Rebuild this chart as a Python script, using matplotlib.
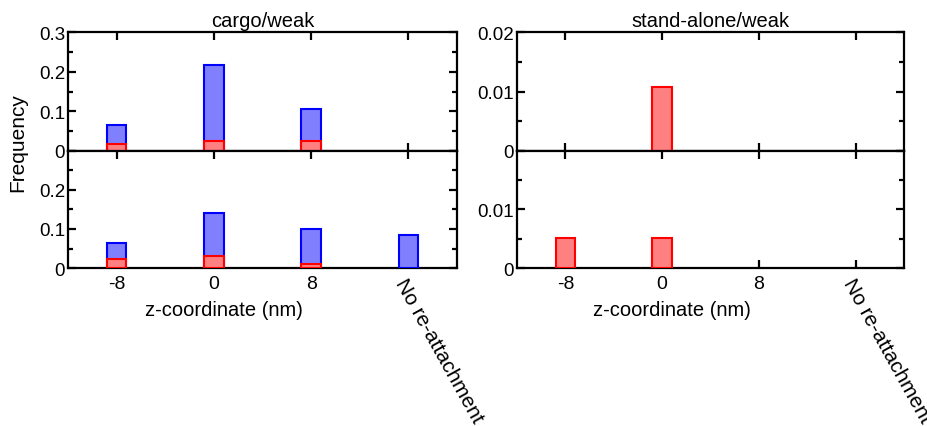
import matplotlib
matplotlib.use("Agg")
import matplotlib.pyplot as plt
import numpy as np

plt.rcParams["font.family"] = ["Liberation Sans", "DejaVu Sans"]
plt.rcParams["font.size"] = 14

categories = ["-8", "0", "8", "No re-attachment"]

# cargo/weak
cargo_top_blue = [0.065, 0.218, 0.106, 0.0]
cargo_top_red = [0.018, 0.025, 0.025, 0.0]
cargo_bot_blue = [0.064, 0.140, 0.099, 0.085]
cargo_bot_red = [0.024, 0.031, 0.010, 0.0]

# stand-alone/weak
alone_top_blue = [0.0, 0.0, 0.0, 0.0]
alone_top_red = [0.0, 0.0107, 0.0, 0.0]
alone_bot_blue = [0.0, 0.0, 0.0, 0.0]
alone_bot_red = [0.0052, 0.0052, 0.0, 0.0]

cargo_yticks = [0, 0.1, 0.2, 0.3]
cargo_top_labels = ["0", "0.1", "0.2", "0.3"]
cargo_bot_labels = ["0", "0.1", "0.2", ""]
alone_yticks = [0, 0.01, 0.02]
alone_top_labels = ["0", "0.01", "0.02"]
alone_bot_labels = ["0", "0.01", ""]

blue_face, blue_edge = "#8080ff", "#0000ff"
red_face, red_edge = "#ff8080", "#ff0000"

fig = plt.figure(figsize=(9.28, 4.27), dpi=100)
H = 427.0
W = 928.0


def make_ax(x0, x1, y0, y1):
    return fig.add_axes([x0 / W, 1 - y1 / H, (x1 - x0) / W, (y1 - y0) / H])


def draw(ax, blue, red, yticks, ylabels, ymax, minor):
    x = np.arange(len(categories))
    bw = 0.2
    for v, c in [(blue, (blue_face, blue_edge)), (red, (red_face, red_edge))]:
        vals = np.array(v)
        m = vals > 0
        ax.bar(x[m], vals[m], width=bw, color=c[0], edgecolor=c[1], linewidth=1.5, zorder=3)
    ax.set_xlim(-0.5, 3.5)
    ax.set_ylim(0, ymax)
    ax.set_yticks(yticks)
    ax.set_yticklabels(ylabels)
    ax.set_yticks(np.arange(minor, ymax, 2 * minor), minor=True)
    ax.set_xticks(x)
    ax.tick_params(axis="both", which="both", direction="in", top=True, right=True, width=1.6)
    ax.tick_params(axis="y", labelsize=13.5, pad=2)
    ax.tick_params(axis="x", labelsize=14, pad=5)
    ax.tick_params(which="major", length=6)
    ax.tick_params(which="minor", length=3.5)
    for s in ax.spines.values():
        s.set_linewidth(1.6)


panels = [
    (68, 457, "cargo/weak", cargo_top_blue, cargo_top_red, cargo_bot_blue, cargo_bot_red,
     cargo_yticks, cargo_top_labels, cargo_bot_labels, 0.3, 0.05),
    (517, 904, "stand-alone/weak", alone_top_blue, alone_top_red, alone_bot_blue, alone_bot_red,
     alone_yticks, alone_top_labels, alone_bot_labels, 0.02, 0.005),
]

for x0, x1, title, tb, tr, bb, br, yt, tl, bl, ymax, minor in panels:
    ax_t = make_ax(x0, x1, 33, 152)
    ax_b = make_ax(x0, x1, 152, 269)
    draw(ax_t, tb, tr, yt, tl, ymax, minor)
    draw(ax_b, bb, br, yt, bl, ymax, minor)
    ax_t.set_xticklabels([])
    ax_t.set_title(title, fontsize=14.5, pad=4)
    ax_b.set_xticklabels(categories)
    lab = ax_b.get_xticklabels()[-1]
    lab.set_rotation(-61)
    lab.set_ha("left")
    lab.set_va("top")
    lab.set_rotation_mode("anchor")
    lab.set_fontsize(15)
    ax_b.set_xlabel("z-coordinate (nm)", fontsize=14.5)
    ax_b.xaxis.set_label_coords(0.40, -0.27)

fig.text(18 / W, 1 - 143 / H, "Frequency", rotation=90, ha="center", va="center", fontsize=15)

fig.savefig("out.png", dpi=100)
